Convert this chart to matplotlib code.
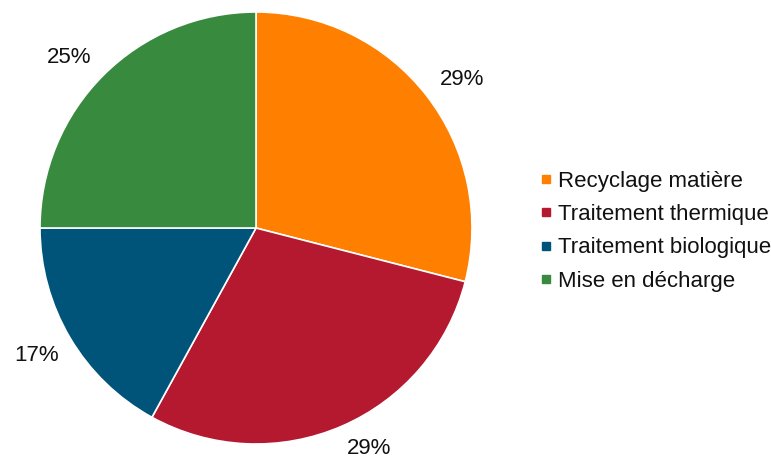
import matplotlib.pyplot as plt
from matplotlib.lines import Line2D

labels = ['Recyclage matière', 'Traitement thermique', 'Traitement biologique', 'Mise en décharge']
shares = [29, 29, 17, 25]
colors = ['#FF7F00', '#B5192F', '#005479', '#378A3E']

plt.rcParams['font.family'] = ['Liberation Sans', 'DejaVu Sans']

fig = plt.figure(figsize=(7.71, 4.61), dpi=100)
W, H = 771, 461
ax = fig.add_axes([40 / W, 17 / H, 432 / W, 432 / H])

wedges, texts, pcts = ax.pie(shares, colors=colors, startangle=90, counterclock=False,
                             autopct='%d%%', pctdistance=1.08, radius=1,
                             wedgeprops=dict(edgecolor='white', linewidth=1.2),
                             textprops=dict(fontsize=16, color='#111111'))
# anchor each percentage on the side facing away from the pie
for t in pcts:
    x, y = t.get_position()
    t.set_ha('left' if x > 0 else 'right')
    if y > 0:
        t.set_va('baseline')
    else:
        t.set_va('top')
        t.set_position((x * 1.06 / 1.08, y * 1.06 / 1.08))

ax.set_xlim(-1, 1)
ax.set_ylim(-1, 1)
ax.set_aspect('equal')
ax.axis('off')

handles = [Line2D([], [], marker='s', linestyle='none', markersize=5.8,
                  markerfacecolor=c, markeredgecolor=c) for c in colors]
fig.legend(handles, labels, loc='upper left', bbox_to_anchor=(540 / W, 1 - 171 / H),
           frameon=False, fontsize=16, handletextpad=0.3, labelspacing=0.55,
           handlelength=0.5, borderpad=0, borderaxespad=0, labelcolor='#111111')

fig.savefig('out.png', dpi=100)
